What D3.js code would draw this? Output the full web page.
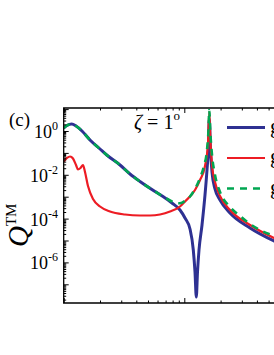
<!DOCTYPE html>
<html>
<head>
<meta charset="utf-8">
<script src="https://cdn.jsdelivr.net/npm/d3@7/dist/d3.min.js"></script>
<style>
    body { margin: 0; background: #fff; }
    svg { display: block; }
    text { font-family: "Liberation Serif", "Times New Roman", serif; fill: #000; }
</style>
</head>
<body>
<script>
// values (x in the plot's own units, Q^TM on a log scale)
var xBlue = [0.100, 0.1065, 0.1165, 0.1265, 0.1418, 0.1652, 0.200, 0.2274, 0.293, 0.3546, 0.4292, 0.5715, 0.6658,
             0.7907, 0.9211, 1.0134, 1.115, 1.1875, 1.2267, 1.2575, 1.2867, 1.3241, 1.4023, 1.4848, 1.5426, 1.5812,
             1.6118, 1.6491, 1.6972, 1.7972, 1.977, 2.393, 3.506, 5.544, 7.524],
    qBlue = [1.371, 1.783, 2.087, 1.692, 1.0, 0.388, 0.1507, 0.0802, 0.028, 0.01088, 0.00494, 0.001727, 0.001021,
             0.000515, 0.000247, 1.065e-4, 3.35e-5, 3.68e-6, 3.65e-7, 2.63e-8, 3.65e-7, 3.68e-6, 5.1e-5, 0.001196,
             0.01656, 0.1356, 3.53, 0.1356, 0.01342, 0.00225, 0.000706, 0.00018, 3.72e-5, 9.5e-6, 4.55e-6],
    xRed = [0.100, 0.1065, 0.1128, 0.1194, 0.1265, 0.1314, 0.1378, 0.1445, 0.1502, 0.159, 0.175, 0.200, 0.242,
            0.3224, 0.4292, 0.5195, 0.6287, 0.7612, 0.9211, 1.0134, 1.2267, 1.3497, 1.4848, 1.5724, 1.6118,
            1.6491, 1.6972, 1.7972, 1.977, 2.393, 3.506, 5.544, 7.524],
    qRed = [0.0405, 0.0585, 0.0685, 0.0555, 0.028, 0.01746, 0.02044, 0.028, 0.01342, 0.00308, 0.000785, 0.000357,
            0.000211, 0.000154, 1.386e-4, 1.386e-4, 1.54e-4, 2.11e-4, 3.57e-4, 6.04e-4, 0.00202, 0.00579, 0.0252,
            0.283, 7.37, 0.283, 0.028, 0.00469, 0.001076, 0.000247, 5.1e-5, 1.3e-5, 6.23e-6],
    xGreen = [0.100, 0.1065, 0.1165, 0.1265, 0.1418, 0.1652, 0.200, 0.2274, 0.293, 0.3546, 0.4292, 0.5715, 0.6658,
              0.7612, 0.8535, 0.9211, 1.0134, 1.115, 1.2267, 1.3497, 1.4567, 1.5426, 1.5874, 1.6118, 1.6399,
              1.6972, 1.7972, 1.977, 2.393, 2.897, 3.506, 4.244, 5.544, 7.524],
    qGreen = [1.371, 1.783, 2.087, 1.692, 1.0, 0.388, 0.1507, 0.0802, 0.028, 0.01088, 0.00494, 0.001727, 0.001021,
              0.00067, 0.000515, 0.0005, 0.000637, 0.001021, 0.00225, 0.00714, 0.0252, 0.1356, 1.111, 9.10, 1.111,
              0.0802, 0.00979, 0.00164, 0.000339, 1.315e-4, 5.67e-5, 3.02e-5, 1.6e-5, 8.55e-6],
    yLabels = [0, -2, -4, -6],
    legendNames = ['g', 'g', 'g'];

(function() {
    var width = 274,
        height = 355,
        pLeft = 63.7,
        pRight = 304.9,
        pTop = 108,
        pBottom = 303,
        svg = d3.select('body').append('svg').attr('width', width).attr('height', height),
        x = d3.scaleLog().domain([0.1, 10]).range([pLeft, pRight]),
        y = d3.scaleLog().domain([Math.pow(10, -7.854), Math.pow(10, 1.05)]).range([pBottom, pTop]),
        line = d3.line()
            .x(function(d) { return x(d[0]); })
            .y(function(d) { return y(d[1]); })
            .curve(d3.curveMonotoneX),
        series = [
            {xs: xBlue, qs: qBlue, color: '#2e3192', w: 3, dash: null},
            {xs: xRed, qs: qRed, color: '#ed1c24', w: 2.2, dash: null},
            {xs: xGreen, qs: qGreen, color: '#00a651', w: 2.6, dash: '7,6'}
        ];

    // minor ticks: 2..9 in every decade
    function minors(scale) {
        var d = scale.domain(), out = [];
        for (var e = Math.floor(Math.log10(d[0])); e <= Math.ceil(Math.log10(d[1])); e++) {
            for (var k = 2; k < 10; k++) {
                var v = k * Math.pow(10, e);
                if (v > d[0] && v < d[1]) out.push(v);
            }
        }
        return out;
    }
    function decades(scale) {
        var d = scale.domain(), out = [];
        for (var e = Math.ceil(Math.log10(d[0])); e <= Math.floor(Math.log10(d[1])); e++) out.push(Math.pow(10, e));
        return out;
    }

    svg.append('clipPath').attr('id', 'plot')
        .append('rect').attr('x', pLeft).attr('y', pTop).attr('width', pRight - pLeft).attr('height', pBottom - pTop);

    // curves
    svg.append('g')
        .attr('clip-path', 'url(#plot)')
        .selectAll('path')
        .data(series)
        .enter()
        .append('path')
        .attr('d', function(s) { return line(s.xs.map(function(v, i) { return [v, s.qs[i]]; })); })
        .attr('fill', 'none')
        .attr('stroke', function(s) { return s.color; })
        .attr('stroke-width', function(s) { return s.w; })
        .attr('stroke-dasharray', function(s) { return s.dash; })
        .attr('stroke-linejoin', 'round');

    // axes, ticks pointing inward
    function axis(gen, tx, ty, vals, size) {
        var g = svg.append('g')
            .attr('transform', 'translate(' + tx + ',' + ty + ')')
            .call(gen.tickValues(vals).tickSize(size).tickFormat(''));
        g.selectAll('path').remove();
        g.selectAll('line').attr('stroke', '#000').attr('stroke-width', 1);
    }
    axis(d3.axisBottom(x), 0, pBottom, decades(x), -5);
    axis(d3.axisBottom(x), 0, pBottom, minors(x), -2.5);
    axis(d3.axisTop(x), 0, pTop, decades(x), -5);
    axis(d3.axisTop(x), 0, pTop, minors(x), -2.5);
    axis(d3.axisLeft(y), pLeft, 0, decades(y), -5);
    axis(d3.axisLeft(y), pLeft, 0, minors(y), -2.5);

    // frame
    svg.append('path')
        .attr('d', 'M' + pRight + ',' + pTop + 'H' + pLeft + 'V' + pBottom + 'H' + pRight)
        .attr('fill', 'none')
        .attr('stroke', '#000')
        .attr('stroke-width', 1.3);

    // y tick labels 10^n
    var lab = svg.append('g').selectAll('text')
        .data(yLabels)
        .enter()
        .append('text')
        .attr('x', 58)
        .attr('y', function(e) { return y(Math.pow(10, e)) + 7; })
        .style('text-anchor', 'end')
        .style('font-size', '18px');
    lab.append('tspan').text('10');
    lab.append('tspan')
        .attr('dy', -8)
        .style('font-size', '12px')
        .text(function(e) { return e === 0 ? '0' : '-' + (-e); });

    // y title
    var yt = svg.append('text')
        .attr('transform', 'translate(28,247) rotate(-90)')
        .style('font-size', '29px');
    yt.append('tspan').style('font-style', 'italic').text('Q');
    yt.append('tspan').attr('dy', -12).style('font-size', '15px').text('TM');

    // panel label and angle
    svg.append('text').attr('x', 9).attr('y', 126).style('font-size', '19px').text('(c)');
    var zt = svg.append('text').attr('x', 134).attr('y', 129).style('font-size', '20px');
    zt.append('tspan').style('font-style', 'italic').text('\u03b6');
    zt.append('tspan').text(' = 1');
    zt.append('tspan').attr('dy', -9).style('font-size', '13px').text('o');

    // legend
    var leg = svg.append('g').selectAll('g')
        .data(series)
        .enter()
        .append('g')
        .attr('transform', function(d, i) { return 'translate(227,' + (127.5 + i * 30.5) + ')'; });
    leg.append('line')
        .attr('x1', 0).attr('x2', 38)
        .attr('stroke', function(s) { return s.color; })
        .attr('stroke-width', function(s) { return s.w; })
        .attr('stroke-dasharray', function(s) { return s.dash; });
    leg.append('text')
        .attr('x', 43)
        .attr('y', 5)
        .style('font-size', '22px')
        .text(function(d, i) { return legendNames[i]; });
})();
</script>
</body>
</html>
